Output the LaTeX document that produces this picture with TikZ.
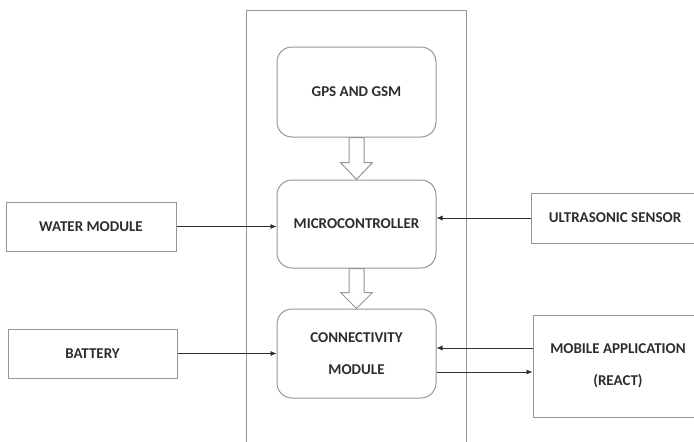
\documentclass[tikz,border=0pt]{standalone}
\usepackage{fontspec}
\setmainfont{Carlito}
\usetikzlibrary{calc,arrows.meta}
\definecolor{boxgray}{RGB}{150,150,150}
\definecolor{inkgray}{RGB}{45,45,45}
\begin{document}
\begin{tikzpicture}[x=1pt, y=-1pt,
  font=\fontsize{15}{18}\selectfont\bfseries,
  unit/.style={draw=boxgray, line width=1pt, rounded corners=15pt, text=inkgray, minimum width=159pt, minimum height=89pt, align=center},
  side/.style={draw=boxgray, line width=1pt, text=inkgray, minimum height=49pt, align=center},
  link/.style={-{Latex[length=6pt,width=5pt]}, line width=0.7pt, draw=inkgray},
  fat/.style={draw=boxgray, line width=1pt, fill=white}]
\useasboundingbox (0,0) rectangle (694,442);
\clip (0,0) rectangle (694,442);
\node[draw=boxgray, line width=1pt, minimum width=220pt, minimum height=450pt] (frame) at (356,235) {};
\node[unit, minimum height=90pt] (gps) at (356.5,92) {GPS AND GSM};
\node[unit, minimum height=88pt] (micro) at (356.5,224) {MICROCONTROLLER};
\node[unit] (conn) at (356.5,353.5) {CONNECTIVITY\\[14pt]MODULE};
\node[side, minimum width=170pt] (water) at (91,226.5) {WATER MODULE};
\node[side, minimum width=169pt] (battery) at (92.5,353.5) {BATTERY};
\node[side, minimum width=168pt, minimum height=50pt] (ultra) at (615,218) {ULTRASONIC SENSOR};
\node[side, minimum width=170pt, minimum height=102pt] (mobile) at (618,366) {MOBILE APPLICATION\\[14pt](REACT)};
% block arrows between the stacked units
\draw[fat] ($(gps.south)+(-7.5,0)$) -- ($(micro.north)+(-7.5,-17)$) -- ($(micro.north)+(-16,-17)$) -- (micro.north)
  -- ($(micro.north)+(16,-17)$) -- ($(micro.north)+(7.5,-17)$) -- ($(gps.south)+(7.5,0)$) -- cycle;
\draw[fat] ($(micro.south)+(-7.5,0)$) -- ($(conn.north)+(-7.5,-16)$) -- ($(conn.north)+(-16,-16)$) -- (conn.north)
  -- ($(conn.north)+(16,-16)$) -- ($(conn.north)+(7.5,-16)$) -- ($(micro.south)+(7.5,0)$) -- cycle;
% signal lines
\coordinate (appout) at ($(mobile.west)+(0,-18)$);
\coordinate (connout) at ($(conn.east)+(0,18.5)$);
\draw[link] (water.east) -- (water.east -| micro.west);
\draw[link] (ultra.west) -- (ultra.west -| micro.east);
\draw[link] (battery.east) -- (battery.east -| conn.west);
\draw[link] (appout) -- (appout -| conn.east);
\draw[link] (connout) -- (connout -| mobile.west);
\end{tikzpicture}
\end{document}
